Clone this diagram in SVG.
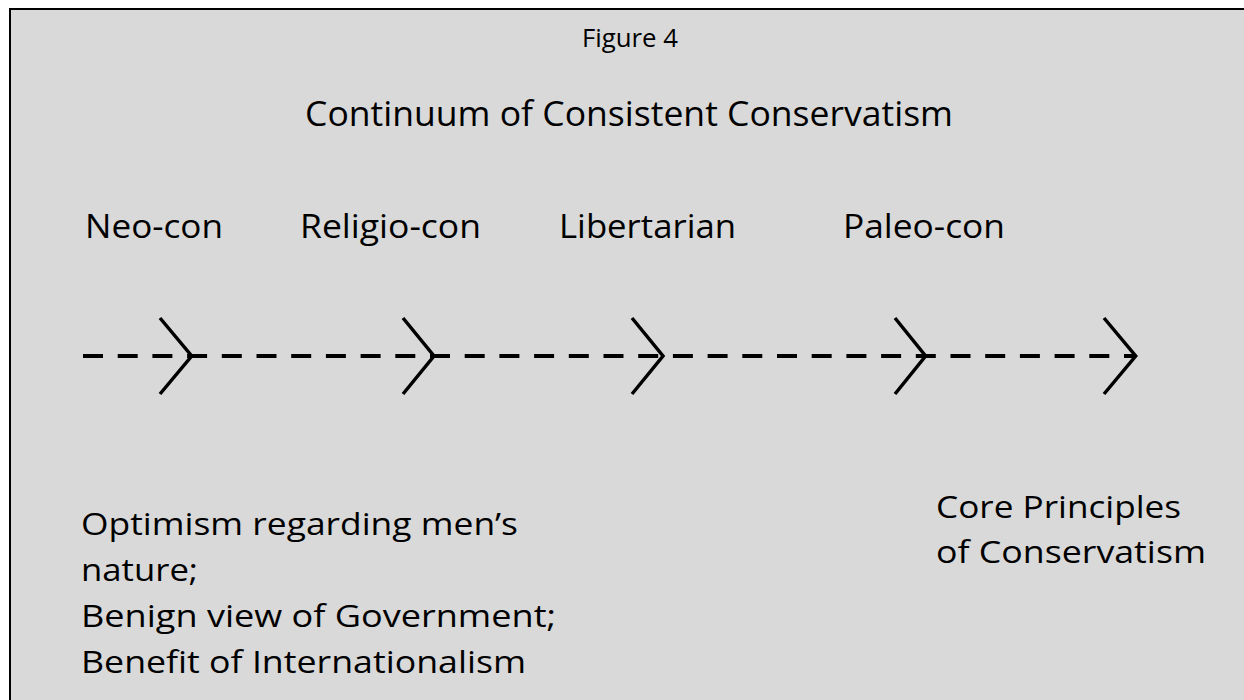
<svg xmlns="http://www.w3.org/2000/svg" width="1244" height="700" viewBox="0 0 1244 700">
  <style>
    text { font-family: "Open Sans", Lato, "Liberation Sans", sans-serif; fill: #000; }
    .t-fig { font-size: 25px; }
    .t-title { font-size: 35px; }
    .t-lab { font-size: 32px; }
    .t-body { font-size: 31px; }
    .dash { stroke: #000; stroke-width: 4; stroke-dasharray: 20 14.7; fill: none; }
    .chev { stroke: #000; stroke-width: 3.5; fill: none; stroke-linejoin: miter; }
  </style>
  <rect x="0" y="0" width="1244" height="700" fill="#ffffff"/>
  <rect id="frame" x="10" y="9" width="1250" height="710" fill="#d9d9d9" stroke="#000" stroke-width="2"/>

  <g id="header">
    <text class="t-fig" x="582" y="47" textLength="96" lengthAdjust="spacingAndGlyphs">Figure 4</text>
    <text class="t-title" x="305" y="126" textLength="648" lengthAdjust="spacingAndGlyphs">Continuum of Consistent Conservatism</text>
  </g>

  <g id="node-neocon"><text class="t-lab" x="85" y="238" textLength="138" lengthAdjust="spacingAndGlyphs">Neo-con</text></g>
  <g id="node-religiocon"><text class="t-lab" x="300" y="238" textLength="181" lengthAdjust="spacingAndGlyphs">Religio-con</text></g>
  <g id="node-libertarian"><text class="t-lab" x="559" y="238" textLength="177" lengthAdjust="spacingAndGlyphs">Libertarian</text></g>
  <g id="node-paleocon"><text class="t-lab" x="843" y="238" textLength="162" lengthAdjust="spacingAndGlyphs">Paleo-con</text></g>

  <g id="connectors">
    <line class="dash" x1="83" y1="356" x2="1136" y2="356"/>
    <polyline class="chev" points="160,318 191.7,356 160,394"/>
    <polyline class="chev" points="403,318 434,356 403,394"/>
    <polyline class="chev" points="632,318 663,356 632,394"/>
    <polyline class="chev" points="895,318 925.6,356 895,394"/>
    <polyline class="chev" points="1104,318 1135.7,356 1104,394"/>
  </g>

  <g id="node-left-notes">
    <text class="t-body" x="81" y="535" textLength="437" lengthAdjust="spacingAndGlyphs">Optimism regarding men’s</text>
    <text class="t-body" x="81" y="581" textLength="117" lengthAdjust="spacingAndGlyphs">nature;</text>
    <text class="t-body" x="81" y="627" textLength="475" lengthAdjust="spacingAndGlyphs">Benign view of Government;</text>
    <text class="t-body" x="81" y="673" textLength="445" lengthAdjust="spacingAndGlyphs">Benefit of Internationalism</text>
  </g>

  <g id="node-right-notes">
    <text class="t-body" x="936" y="518" textLength="245" lengthAdjust="spacingAndGlyphs">Core Principles</text>
    <text class="t-body" x="936" y="563" textLength="270" lengthAdjust="spacingAndGlyphs">of Conservatism</text>
  </g>
</svg>
